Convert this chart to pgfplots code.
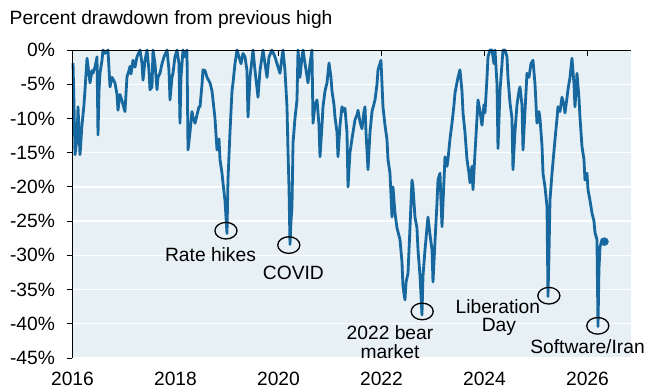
\documentclass[border=0pt]{standalone}
\usepackage{fontspec}
\setmainfont{Liberation Sans}
\usepackage{pgfplots}
\pgfplotsset{compat=1.18}
\definecolor{bgc}{RGB}{231,240,244}
\definecolor{linec}{RGB}{24,104,160}
\begin{document}
\fontsize{19.3}{22}\selectfont
\begin{tikzpicture}
\begin{axis}[
  scale only axis,
  width=558.5bp, height=308bp,
  xmin=2016, xmax=2026.845,
  ymin=-45, ymax=0,
  clip=false,
  axis background/.style={fill=bgc},
  axis line style={draw=none},
  xtick={2016,2018,2020,2022,2024,2026},
  xticklabels={2016,2018,2020,2022,2024,2026},
  ytick={-45,-40,-35,-30,-25,-20,-15,-10,-5,0},
  yticklabels={-45\%,-40\%,-35\%,-30\%,-25\%,-20\%,-15\%,-10\%,-5\%,0\%},
  xtick pos=right, xticklabel pos=left,
  ytick pos=left,
  tick align=inside,
  major tick length=5.5bp,
  every tick/.style={black, line width=0.9bp},
  y tick style={xshift=-5.5bp},
  ymajorgrids,
  grid style={white, line width=1.3bp},
  /pgf/number format/assume math mode=true,
  tick label style={font=\fontsize{19.3}{22}\selectfont},
  xticklabel style={yshift=-7bp},
  yticklabel style={xshift=-11bp},
]
\addplot[linec, line width=2.8bp, line join=round] coordinates {
(2016.010,-1.9)(2016.029,-8)(2016.049,-15.3)(2016.087,-13)(2016.107,-8.3)(2016.146,-15.3)(2016.184,-11)(2016.223,-8)(2016.243,-5.8)(2016.282,-1.2)
(2016.320,-3.5)(2016.340,-4.8)(2016.379,-3)(2016.398,-3.4)(2016.437,-2.5)(2016.476,-1)(2016.495,-12.4)(2016.515,-6)(2016.534,-3.4)(2016.573,-1.5)
(2016.592,0)(2016.631,-0.5)(2016.689,0)(2016.728,-5.4)(2016.767,-4)(2016.825,-4.8)(2016.864,-6.5)(2016.883,-8.8)(2016.922,-6.5)(2016.961,-7.4)
(2017.000,-8.5)(2017.019,-9)(2017.058,-3.9)(2017.097,-3)(2017.117,-2.4)(2017.136,-3.5)(2017.175,-1.5)(2017.214,-2.5)(2017.252,-1)(2017.311,0)
(2017.350,-2)(2017.369,-4.4)(2017.408,-1.5)(2017.447,0)(2017.485,-3)(2017.505,-5.8)(2017.544,-5.4)(2017.563,0)(2017.602,-2)(2017.641,-5.8)
(2017.660,-4)(2017.699,-3.4)(2017.738,-2)(2017.777,-1)(2017.835,0)(2017.874,-3)(2017.893,-7.3)(2017.932,-4)(2017.951,-3.4)(2017.990,-1)
(2018.029,0)(2018.068,-2)(2018.087,-10.7)(2018.107,-4)(2018.146,0)(2018.184,-1)(2018.223,0)(2018.243,-14.6)(2018.282,-12)(2018.320,-9)
(2018.340,-9.8)(2018.379,-10.7)(2018.417,-9.5)(2018.456,-8.3)(2018.476,-8.3)(2018.515,-5)(2018.534,-2.9)(2018.573,-3)(2018.612,-4)(2018.670,-4.8)
(2018.709,-6)(2018.728,-7.3)(2018.767,-10)(2018.806,-14.6)(2018.845,-13)(2018.864,-16)(2018.903,-18)(2018.922,-19.4)(2018.961,-22)(2019.000,-26.8)
(2019.019,-19)(2019.058,-12)(2019.097,-6)(2019.117,-4.8)(2019.155,-2)(2019.194,0)(2019.233,-1)(2019.272,-2)(2019.311,-0.5)(2019.350,-1)
(2019.388,-3)(2019.408,-9.8)(2019.447,-4)(2019.505,0)(2019.544,-3)(2019.602,-6.9)(2019.641,-3)(2019.699,0)(2019.738,-2)(2019.777,-4)
(2019.816,-1)(2019.874,0)(2019.932,-1)(2019.971,-2)(2020.029,-3.4)(2020.068,-1)(2020.087,0)(2020.126,-3)(2020.165,-8.3)(2020.184,-14.6)
(2020.204,-20)(2020.223,-28.4)(2020.243,-25)(2020.262,-23)(2020.282,-13.6)(2020.320,-10)(2020.359,-7.3)(2020.379,0)(2020.417,-4)(2020.456,-1)
(2020.476,0)(2020.515,-2)(2020.573,-4.8)(2020.612,-2)(2020.650,0)(2020.670,-10.7)(2020.709,-8)(2020.748,-7.3)(2020.786,-11)(2020.806,-15.6)
(2020.845,-11)(2020.864,-8.3)(2020.903,-6)(2020.942,-4.8)(2020.981,-1.9)(2021.019,-4)(2021.039,-6)(2021.078,-8)(2021.097,-9.8)(2021.136,-12)
(2021.155,-15.6)(2021.194,-11)(2021.233,-8.3)(2021.272,-9)(2021.291,-8.5)(2021.330,-12.1)(2021.350,-20)(2021.388,-15)(2021.427,-13)(2021.485,-10.2)
(2021.524,-9.5)(2021.544,-8.8)(2021.583,-10.5)(2021.621,-11.5)(2021.660,-9)(2021.680,-8.3)(2021.699,-12)(2021.738,-17.5)(2021.777,-12)(2021.816,-9)
(2021.874,-7.3)(2021.913,-5)(2021.932,-2.9)(2021.990,-1.5)(2022.029,-8.3)(2022.068,-11)(2022.107,-13.1)(2022.126,-16)(2022.165,-18)(2022.204,-24.4)
(2022.223,-20)(2022.262,-23.8)(2022.301,-26)(2022.359,-27.7)(2022.398,-31)(2022.417,-34.6)(2022.456,-36.5)(2022.476,-34)(2022.515,-32.6)(2022.553,-26)
(2022.592,-19)(2022.612,-20)(2022.650,-24.4)(2022.689,-26)(2022.709,-29.2)(2022.748,-33)(2022.786,-38.7)(2022.806,-33)(2022.845,-29.2)(2022.883,-26)
(2022.903,-24.4)(2022.942,-27)(2022.981,-29.2)(2023.000,-33.9)(2023.039,-28)(2023.078,-22.3)(2023.097,-19)(2023.136,-18)(2023.155,-22)(2023.175,-25.8)
(2023.214,-19)(2023.233,-15.6)(2023.272,-17)(2023.291,-16)(2023.330,-13)(2023.369,-10.7)(2023.408,-8)(2023.427,-6.3)(2023.485,-4)(2023.524,-2.9)
(2023.563,-6)(2023.583,-9.2)(2023.621,-12)(2023.660,-16)(2023.699,-18)(2023.718,-19.4)(2023.757,-17)(2023.777,-20.4)(2023.816,-15)(2023.854,-10)
(2023.874,-7.3)(2023.913,-9)(2023.951,-11)(2023.990,-8)(2024.010,-9.2)(2024.049,-4)(2024.068,-1)(2024.107,0)(2024.146,0)(2024.184,-2)
(2024.204,0)(2024.243,-5)(2024.262,-14.4)(2024.301,-6)(2024.340,-2)(2024.359,0)(2024.398,0)(2024.437,-1)(2024.456,-4)(2024.495,-7.7)
(2024.534,-10)(2024.553,-17.5)(2024.592,-12)(2024.631,-8)(2024.670,-6)(2024.689,-5.4)(2024.728,-8)(2024.748,-14.6)(2024.786,-9)(2024.825,-3.4)
(2024.864,-4)(2024.903,-2)(2024.942,-1.5)(2024.981,-5)(2025.019,-10.7)(2025.058,-9)(2025.078,-10)(2025.117,-14)(2025.136,-18)(2025.175,-20)
(2025.214,-22.9)(2025.233,-36)(2025.252,-30)(2025.272,-21.9)(2025.311,-18)(2025.369,-13.1)(2025.408,-10)(2025.427,-8.3)(2025.466,-9)(2025.505,-6.9)
(2025.544,-8)(2025.563,-9.2)(2025.602,-7)(2025.621,-5.8)(2025.660,-4)(2025.699,-1.2)(2025.738,-5)(2025.757,-8.3)(2025.777,-6)(2025.796,-3.4)
(2025.835,-7)(2025.854,-9.8)(2025.893,-14.1)(2025.932,-16)(2025.951,-19)(2025.990,-18)(2026.010,-20.4)(2026.049,-22)(2026.087,-23.8)(2026.126,-25)
(2026.146,-26.7)(2026.184,-27.7)(2026.204,-40.4)(2026.223,-32)(2026.243,-28.8)(2026.282,-27.7)(2026.320,-28.2)(2026.340,-28)
};
\addplot[only marks, mark=*, mark size=4bp, color=linec] coordinates {(2026.330,-28)};
\addplot[only marks, mark=o, mark size=8.3bp, mark options={black, line width=1.3bp, xscale=1.33}] coordinates {
(2018.98,-26.4)(2020.20,-28.5)(2022.79,-38.2)(2025.25,-35.9)(2026.20,-40.3)};
\draw[black, line width=0.9bp] (rel axis cs:0,0) -- (rel axis cs:0,1) -- (rel axis cs:1,1);
\node[anchor=base] at (axis cs:2018.68,-30.83) {Rate hikes};
\node[anchor=base] at (axis cs:2020.29,-33.46) {COVID};
\node[anchor=base] at (axis cs:2022.165,-42.37) {2022 bear};
\node[anchor=base] at (axis cs:2022.165,-45.08) {market};
\node[anchor=base] at (axis cs:2024.26,-38.43) {Liberation};
\node[anchor=base] at (axis cs:2024.28,-41.13) {Day};
\node[anchor=base east, inner sep=0pt] at (axis cs:2027.115,-44.27) {Software/Iran};
\end{axis}
\node[anchor=base west, inner sep=0pt] at (-63bp,333bp) {Percent drawdown from previous high};
\pgfresetboundingbox
\path[use as bounding box] (-72.5bp,-30bp) rectangle (575.5bp,358bp);
\end{tikzpicture}
\end{document}
